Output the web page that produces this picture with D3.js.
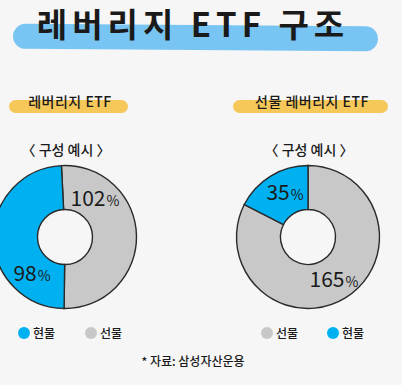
<!DOCTYPE html>
<html><head><meta charset="utf-8">
<script src="https://cdn.jsdelivr.net/npm/d3@7"></script>
<style>
html,body{margin:0;padding:0;background:#f6f6f6;}
svg{display:block;}
text{font-family:"Noto Sans CJK KR","Noto Sans",sans-serif;fill:#1a1a1a;}
</style></head>
<body>
<script>
const title = "레버리지 ETF 구조";
const categories = ["선물", "현물"];
const leverageValues = [102, 98];        // 선물, 현물
const futuresLeverageValues = [165, 35]; // 선물, 현물
const chartTitles = ["레버리지 ETF", "선물 레버리지 ETF"];
const subTitle = "〈 구성 예시 〉";
const legendLeft = ["현물", "선물"];
const legendRight = ["선물", "현물"];
const source = "* 자료: 삼성자산운용";

const W = 402, H = 385;
const color = d3.scaleOrdinal().domain(categories).range(["#c8c8c8", "#00b1f1"]);

const svg = d3.select("body").append("svg").attr("width", W).attr("height", H);
svg.append("rect").attr("width", W).attr("height", H).attr("fill", "#f6f6f6");

// Title highlight
svg.append("rect").attr("x", 13).attr("y", 25).attr("width", 365).attr("height", 25)
  .attr("rx", 12.5).attr("fill", "#78c5f3").attr("transform", "rotate(0.4 190 37)");
svg.append("text").attr("x", 193).attr("y", 37).attr("text-anchor", "middle")
  .attr("font-size", 33).attr("font-weight", 700).attr("letter-spacing", 5).text(title);

const panels = [
  {cx: 65, cy: 237, values: leverageValues, start: -0.05, title: chartTitles[0],
   band: [9, 119], tx: 70, legend: legendLeft, lx: [24, 91],
   labels: [[95, 198], [32, 273]]},
  {cx: 308, cy: 237, values: futuresLeverageValues, start: 0, title: chartTitles[1],
   band: [233, 155], tx: 312, legend: legendRight, lx: [267, 333],
   labels: [[334, 279], [285, 192]]}
];

const rOuter = 71.5, rInner = 27.5;
const arc = d3.arc().innerRadius(rInner).outerRadius(rOuter);

panels.forEach(p => {
  // section title with yellow highlight
  svg.append("rect").attr("x", p.band[0]).attr("y", 100).attr("width", p.band[1]).attr("height", 13)
    .attr("rx", 6.5).attr("fill", "#f6c759");
  svg.append("text").attr("x", p.tx).attr("y", 107).attr("text-anchor", "middle")
    .attr("font-size", 14).attr("font-weight", 500).attr("letter-spacing", 0.5).text(p.title);
  svg.append("text").attr("x", p.cx + 1).attr("y", 155).attr("text-anchor", "middle")
    .attr("font-size", 14).attr("font-weight", 500).text(subTitle);

  const pie = d3.pie().sort(null).startAngle(p.start).endAngle(p.start + 2 * Math.PI);
  const data = categories.map((c, i) => ({cat: c, value: p.values[i]}));
  const arcs = pie.value(d => d.value)(data);
  const g = svg.append("g").attr("transform", `translate(${p.cx},${p.cy})`);
  g.selectAll("path").data(arcs).join("path")
    .attr("d", arc).attr("fill", d => color(d.data.cat))
    .attr("stroke", "#2a2a2a").attr("stroke-width", 1.4);

  arcs.forEach((a, i) => {
    const t = svg.append("text").attr("x", p.labels[i][0]).attr("y", p.labels[i][1] + 7.5)
      .attr("text-anchor", "middle").attr("font-size", 21).attr("font-weight", 400);
    t.append("tspan").text(a.data.value);
    t.append("tspan").attr("font-size", 14).attr("dx", 1).text("%");
  });

  p.legend.forEach((c, i) => {
    svg.append("circle").attr("cx", p.lx[i]).attr("cy", 333).attr("r", 6).attr("fill", color(c));
    svg.append("text").attr("x", p.lx[i] + 9).attr("y", 337.5).attr("font-size", 12)
      .attr("font-weight", 500).text(c);
  });
});

svg.append("text").attr("x", 193).attr("y", 366).attr("text-anchor", "middle")
  .attr("font-size", 12).attr("font-weight", 500).text(source);
</script>
</body></html>
